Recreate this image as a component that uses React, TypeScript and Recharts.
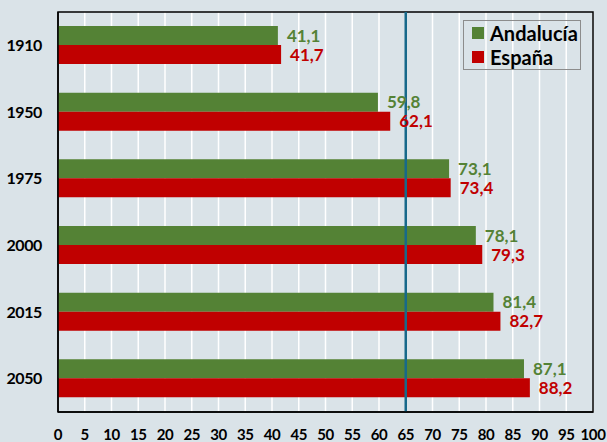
import React from "react";
import {
  Bar,
  BarChart,
  CartesianGrid,
  LabelList,
  ReferenceArea,
  ReferenceLine,
  XAxis,
  YAxis,
} from "recharts";

const years = ["1910", "1950", "1975", "2000", "2015", "2050"];
const andalucia = [41.1, 59.8, 73.1, 78.1, 81.4, 87.1];
const espana = [41.7, 62.1, 73.4, 79.3, 82.7, 88.2];
const xTicks = [0, 5, 10, 15, 20, 25, 30, 35, 40, 45, 50, 55, 60, 65, 70, 75, 80, 85, 90, 95, 100];

const data = years.map((year, i) => ({
  year,
  andalucia: andalucia[i],
  espana: espana[i],
}));

const GREEN = "#548235";
const RED = "#c00000";
const FONT = "Lato, 'Open Sans', sans-serif";

const fmt = (v: any) => String(v).replace(".", ",");

function LegendBox() {
  const items = [
    { label: "Andalucía", color: GREEN },
    { label: "España", color: RED },
  ];
  return (
    <div
      style={{
        position: "absolute",
        left: 463,
        top: 20,
        width: 118,
        height: 50,
        border: "1.5px solid #8c8c8c",
        boxSizing: "border-box",
        padding: "0 0 0 8px",
        fontFamily: FONT,
        fontWeight: 700,
        fontSize: 20,
        color: "#000",
        lineHeight: "24px",
      }}
    >
      {items.map((it) => (
        <div key={it.label} style={{ display: "flex", alignItems: "center" }}>
          <span
            style={{
              display: "inline-block",
              width: 12,
              height: 12,
              background: it.color,
              marginRight: 6,
            }}
          />
          {it.label}
        </div>
      ))}
    </div>
  );
}

export default function App() {
  return (
    <div
      style={{
        position: "absolute",
        top: 0,
        left: 0,
        width: 607,
        height: 442,
        background: "#dae3e8",
      }}
    >
      <BarChart
        width={607}
        height={442}
        data={data}
        layout="vertical"
        margin={{ top: 12, right: 14, bottom: 0, left: 0 }}
        barSize={19}
        barGap={0}
      >
        <CartesianGrid horizontal={false} vertical stroke="#ffffff" strokeWidth={1.5} />
        <XAxis
          type="number"
          domain={[0, 100]}
          ticks={xTicks}
          interval={0}
          height={30}
          axisLine={{ stroke: "#000", strokeWidth: 1.5 }}
          tickLine={false}
          tickMargin={11}
          tick={{ fill: "#000", fontSize: 15, fontWeight: 700, fontFamily: FONT, letterSpacing: -0.4 }}
        />
        <YAxis
          type="category"
          dataKey="year"
          width={58}
          axisLine={{ stroke: "#000", strokeWidth: 1.5 }}
          tickLine={false}
          tickMargin={10}
          tick={{ fill: "#000", fontSize: 16, fontWeight: 700, fontFamily: FONT, letterSpacing: -0.4 }}
        />
        <Bar dataKey="andalucia" name="Andalucía" fill={GREEN} isAnimationActive={false}>
          <LabelList
            dataKey="andalucia"
            position="right"
            offset={9}
            formatter={fmt}
            fill={GREEN}
            style={{ fontSize: 17, fontWeight: 700, fontFamily: FONT }}
          />
        </Bar>
        <Bar dataKey="espana" name="España" fill={RED} isAnimationActive={false}>
          <LabelList
            dataKey="espana"
            position="right"
            offset={9}
            formatter={fmt}
            fill={RED}
            style={{ fontSize: 17, fontWeight: 700, fontFamily: FONT }}
          />
        </Bar>
        <ReferenceLine x={65} stroke="#17698a" strokeWidth={2.5} />
        <ReferenceArea x1={0} x2={100} fill="none" fillOpacity={0} stroke="#000" strokeWidth={1.5} />
      </BarChart>
      <LegendBox />
    </div>
  );
}
